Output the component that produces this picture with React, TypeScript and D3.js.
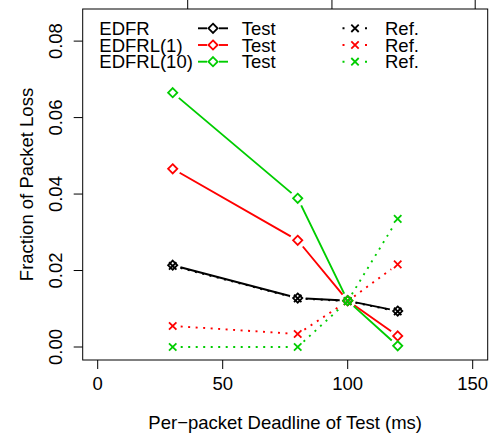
import * as d3 from 'd3';

// Per-packet deadline of the test flow (ms)
const deadlines = [30, 80, 100, 120];

// Fraction of packet loss
const edfrTest = [0.0214, 0.0128, 0.0121, 0.0094];
const edfrRef = [0.0212, 0.0127, 0.0120, 0.0093];
const edfrl1Test = [0.0466, 0.0279, 0.0121, 0.0029];
const edfrl1Ref = [0.0055, 0.0034, 0.0120, 0.0216];
const edfrl10Test = [0.0665, 0.0389, 0.0121, 0.0003];
const edfrl10Ref = [0.0, 0.0, 0.0120, 0.0335];

const xTicks = [0, 50, 100, 150];
const yTicks = [0, 0.02, 0.04, 0.06, 0.08];
const topTicks = [36, 93.7, 151];

const schemes = ['EDFR', 'EDFRL(1)', 'EDFRL(10)'];
const colors = ['#000000', '#FF0000', '#00CD00'];

const W = 489;
const H = 434;
const plot = { left: 82.7, right: 487.7, top: 9, bottom: 360 };
const FONT = '"Liberation Sans", Arial, Helvetica, sans-serif';
const FS = 18.5;

const x = d3.scaleLinear().domain([-6, 156]).range([plot.left, plot.right]);
const y = d3.scaleLinear().domain([-0.0034, 0.0884]).range([plot.bottom, plot.top]);

// R's type="b": segments stop short of each point
function gappedPath(vals: number[], gap: number) {
  let d = '';
  for (let i = 0; i < vals.length - 1; i++) {
    const x0 = x(deadlines[i]), y0 = y(vals[i]);
    const x1 = x(deadlines[i + 1]), y1 = y(vals[i + 1]);
    const len = Math.hypot(x1 - x0, y1 - y0);
    if (len <= 2 * gap) continue;
    const ux = (x1 - x0) / len, uy = (y1 - y0) / len;
    d += `M${x0 + ux * gap},${y0 + uy * gap}L${x1 - ux * gap},${y1 - uy * gap}`;
  }
  return d;
}

const Diamond = ({ cx, cy, color }: { cx: number; cy: number; color: string }) => (
  <path
    d={`M${cx},${cy - 4.6}L${cx + 4.6},${cy}L${cx},${cy + 4.6}L${cx - 4.6},${cy}Z`}
    fill="none" stroke={color} strokeWidth={1.8} />
);

const Cross = ({ cx, cy, color }: { cx: number; cy: number; color: string }) => (
  <path
    d={`M${cx - 3.7},${cy - 3.7}L${cx + 3.7},${cy + 3.7}M${cx - 3.7},${cy + 3.7}L${cx + 3.7},${cy - 3.7}`}
    fill="none" stroke={color} strokeWidth={1.8} />
);

const App = () => {
  const tests = [edfrTest, edfrl1Test, edfrl10Test];
  const refs = [edfrRef, edfrl1Ref, edfrl10Ref];
  const legendRows = [35, 51.7, 68.4];

  return (
    <svg width={W} height={H} style={{ position: 'absolute', left: 0, top: 0, background: '#fff' }}
      fontFamily={FONT} fontSize={FS}>
      <rect width={W} height={H} fill="#fff" />

      {/* series */}
      {tests.map((vals, s) => (
        <g key={'s' + s}>
          <path d={gappedPath(vals, 8)} fill="none" stroke={colors[s]} strokeWidth={1.9} />
          {vals.map((v, i) => <Diamond key={i} cx={x(deadlines[i])} cy={y(v)} color={colors[s]} />)}
          <path d={gappedPath(refs[s], 8)} fill="none" stroke={colors[s]} strokeWidth={1.9}
            strokeDasharray="2,5.5" />
          {refs[s].map((v, i) => <Cross key={i} cx={x(deadlines[i])} cy={y(v)} color={colors[s]} />)}
        </g>
      ))}

      {/* box */}
      <rect x={plot.left} y={plot.top} width={plot.right - plot.left} height={plot.bottom - plot.top}
        fill="none" stroke="#000" strokeWidth={1} />
      {topTicks.map(t => (
        <line key={t} x1={x(t)} x2={x(t)} y1={0} y2={plot.top} stroke="#000" strokeWidth={1} />
      ))}

      {/* x axis */}
      {xTicks.map(t => (
        <g key={t}>
          <line x1={x(t)} x2={x(t)} y1={plot.bottom} y2={plot.bottom + 9} stroke="#000" />
          <text x={x(t)} y={390} textAnchor="middle">{t}</text>
        </g>
      ))}
      <text x={(plot.left + plot.right) / 2} y={429} textAnchor="middle">Per−packet Deadline of Test (ms)</text>

      {/* y axis */}
      {yTicks.map(t => (
        <g key={t}>
          <line x1={plot.left - 9} x2={plot.left} y1={y(t)} y2={y(t)} stroke="#000" />
          <text transform={`translate(61.5,${y(t)}) rotate(-90)`} textAnchor="middle">{d3.format('.2f')(t)}</text>
        </g>
      ))}
      <text transform={`translate(33,${(plot.top + plot.bottom) / 2}) rotate(-90)`} textAnchor="middle">
        Fraction of Packet Loss
      </text>

      {/* legend */}
      {schemes.map((name, s) => {
        const by = legendRows[s];
        const cy = by - 6.7;
        return (
          <g key={name}>
            <text x={99.3} y={by}>{name}</text>
            <line x1={198} x2={228} y1={cy} y2={cy} stroke={colors[s]} strokeWidth={1.9} />
            <rect x={207} y={cy - 5} width={12} height={10} fill="#fff" />
            <Diamond cx={213} cy={cy} color={colors[s]} />
            <text x={241.7} y={by}>Test</text>
            <line x1={342} x2={368} y1={cy} y2={cy} stroke={colors[s]} strokeWidth={1.9} strokeDasharray="2,5.5" strokeDashoffset={-0.5} />
            <rect x={349} y={cy - 5} width={12} height={10} fill="#fff" />
            <Cross cx={355} cy={cy} color={colors[s]} />
            <text x={385} y={by}>Ref.</text>
          </g>
        );
      })}
    </svg>
  );
};

export default App;
